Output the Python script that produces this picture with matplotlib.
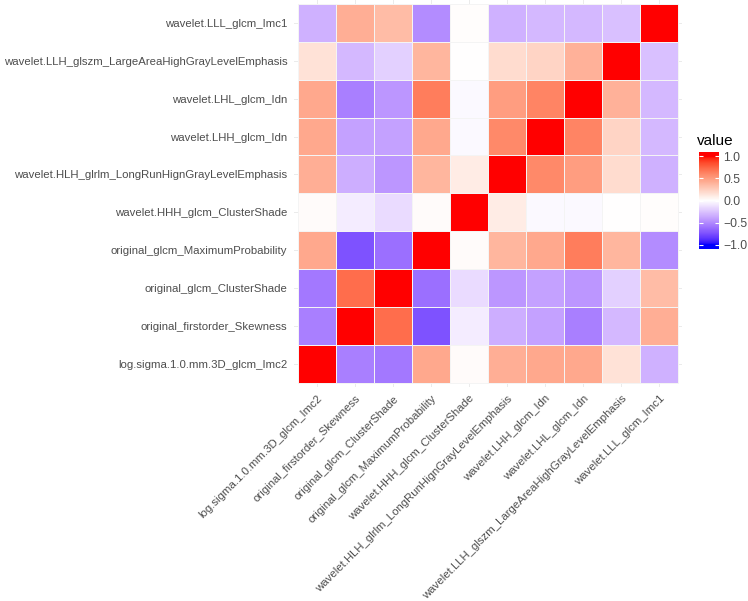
import numpy as np
import matplotlib
matplotlib.use("Agg")
import matplotlib.pyplot as plt
from matplotlib.colors import ListedColormap

plt.rcParams['font.family'] = ['Liberation Sans', 'DejaVu Sans']

features = [
    "log.sigma.1.0.mm.3D_glcm_Imc2",
    "original_firstorder_Skewness",
    "original_glcm_ClusterShade",
    "original_glcm_MaximumProbability",
    "wavelet.HHH_glcm_ClusterShade",
    "wavelet.HLH_glrlm_LongRunHignGrayLevelEmphasis",
    "wavelet.LHH_glcm_Idn",
    "wavelet.LHL_glcm_Idn",
    "wavelet.LLH_glszm_LargeAreaHighGrayLevelEmphasis",
    "wavelet.LLL_glcm_Imc1",
]

# correlation values, row i = features[i] (bottom to top), column j = features[j]
corr = [
    [1.00, -0.55, -0.58, 0.45, 0.02, 0.42, 0.45, 0.45, 0.15, -0.33],
    [-0.55, 1.00, 0.72, -0.75, -0.08, -0.35, -0.40, -0.55, -0.30, 0.42],
    [-0.58, 0.72, 1.00, -0.62, -0.15, -0.45, -0.40, -0.45, -0.20, 0.35],
    [0.45, -0.75, -0.62, 1.00, 0.02, 0.38, 0.45, 0.65, 0.38, -0.50],
    [0.02, -0.08, -0.15, 0.02, 1.00, 0.10, -0.03, -0.03, 0.00, 0.01],
    [0.42, -0.35, -0.45, 0.38, 0.10, 1.00, 0.60, 0.50, 0.18, -0.33],
    [0.45, -0.40, -0.40, 0.45, -0.03, 0.60, 1.00, 0.62, 0.22, -0.30],
    [0.45, -0.55, -0.45, 0.65, -0.03, 0.50, 0.62, 1.00, 0.40, -0.30],
    [0.15, -0.30, -0.20, 0.38, 0.00, 0.18, 0.22, 0.40, 1.00, -0.27],
    [-0.33, 0.42, 0.35, -0.50, 0.01, -0.33, -0.30, -0.30, -0.27, 1.00],
]

# ggplot-like blue/white/red gradient interpolated in Lab space
M = np.array([[0.4124564, 0.3575761, 0.1804375],
              [0.2126729, 0.7151522, 0.0721750],
              [0.0193339, 0.1191920, 0.9503041]])
WHITE = np.array([0.95047, 1.0, 1.08883])


def to_lab(rgb):
    c = np.asarray(rgb, float)
    lin = np.where(c <= 0.04045, c / 12.92, ((c + 0.055) / 1.055) ** 2.4)
    xyz = M @ lin / WHITE
    f = np.where(xyz > (6 / 29) ** 3, np.cbrt(xyz), xyz / (3 * (6 / 29) ** 2) + 4 / 29)
    return np.array([116 * f[1] - 16, 500 * (f[0] - f[1]), 200 * (f[1] - f[2])])


def from_lab(lab):
    L, a, b = lab.T
    fy = (L + 16) / 116
    f = np.stack([fy + a / 500, fy, fy - b / 200], axis=1)
    xyz = np.where(f > 6 / 29, f ** 3, 3 * (6 / 29) ** 2 * (f - 4 / 29)) * WHITE
    lin = np.clip(xyz @ np.linalg.inv(M).T, 0, 1)
    c = np.where(lin <= 0.0031308, 12.92 * lin, 1.055 * lin ** (1 / 2.4) - 0.055)
    return np.clip(c, 0, 1)


low, mid, high = to_lab([0, 0, 1]), to_lab([1, 1, 1]), to_lab([1, 0, 0])
t = np.linspace(0, 1, 256)[:, None]
lab = np.where(t < 0.5, low + (mid - low) * (t / 0.5), mid + (high - mid) * ((t - 0.5) / 0.5))
cmap = ListedColormap(from_lab(lab))

fig = plt.figure(figsize=(7.48, 6.01), dpi=100)
ax = fig.add_axes([294.2 / 748, 1 - 386.5 / 601, 387.6 / 748, 386.3 / 601])
ax.set_xlim(-0.6, 9.6)
ax.set_ylim(-0.6, 9.6)
for i in range(len(features)):
    ax.axvline(i, color='#EBEBEB', lw=0.7, zorder=0)
    ax.axhline(i, color='#EBEBEB', lw=0.7, zorder=0)

edges = np.arange(len(features) + 1) - 0.5
ax.pcolormesh(edges, edges, np.array(corr), cmap=cmap, vmin=-1, vmax=1,
              edgecolors='#F4F4F4', linewidth=0.4, zorder=1)

ax.set_xticks(range(len(features)))
ax.set_xticklabels(features, rotation=45, ha='right', va='top',
                   rotation_mode='anchor', fontsize=8.2, color='#4D4D4D')
ax.set_yticks(range(len(features)))
ax.set_yticklabels(features, fontsize=8.2, color='#4D4D4D')
ax.tick_params(length=0, pad=5)
for s in ax.spines.values():
    s.set_visible(False)

# legend colour bar
cax = fig.add_axes([699 / 748, 1 - 249 / 601, 20 / 748, 97 / 601])
grad = np.linspace(-1.1, 1.1, 300)[:, None]
cax.imshow(grad, cmap=cmap, vmin=-1, vmax=1, aspect='auto', origin='lower',
           extent=(0, 1, -1.1, 1.1))
cax.set_xlim(0, 1)
cax.set_ylim(-1.1, 1.1)
bar_ticks = [-1.0, -0.5, 0.0, 0.5, 1.0]
cax.hlines(bar_ticks, 0, 0.2, color='white', lw=0.8)
cax.hlines(bar_ticks, 0.8, 1, color='white', lw=0.8)
cax.set_xticks([])
cax.yaxis.tick_right()
cax.set_yticks(bar_ticks)
cax.set_yticklabels([f"{v:.1f}".replace("-", "\u2212") for v in bar_ticks],
                    fontsize=8.8, color='#4D4D4D')
cax.tick_params(length=0, pad=3)
for s in cax.spines.values():
    s.set_visible(False)
fig.text(697 / 748, 1 - 141 / 601, "value", fontsize=11, va='center', ha='left')

fig.savefig("out.png", dpi=100)
